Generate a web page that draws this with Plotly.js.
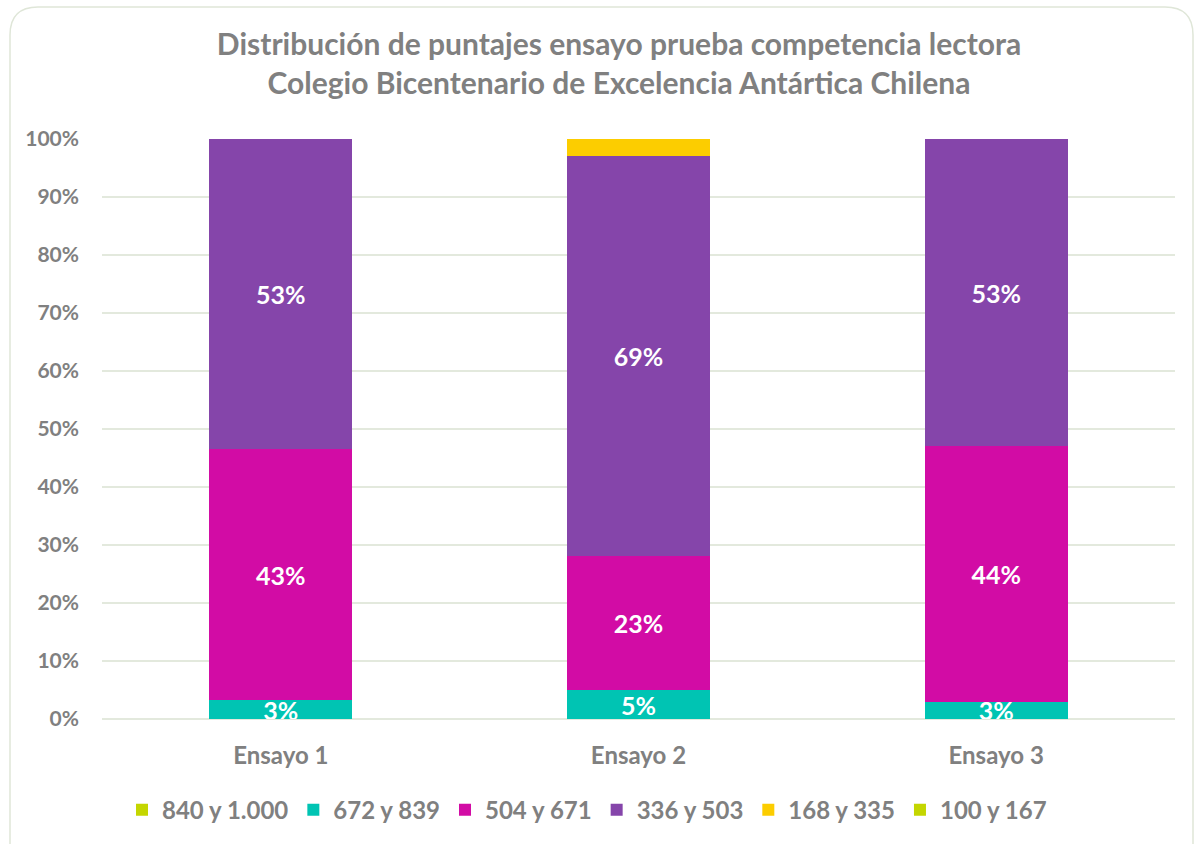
<!DOCTYPE html>
<html>
<head>
<meta charset="utf-8">
<script src="https://cdn.plot.ly/plotly-3.0.1.min.js"></script>
<style>
html,body{margin:0;padding:0;background:#fff;}
#chart{width:1200px;height:844px;}
</style>
</head>
<body>
<div id="chart"></div>
<script>
const categories = ["Ensayo 1", "Ensayo 2", "Ensayo 3"];
const seriesNames = ["840 y 1.000", "672 y 839", "504 y 671", "336 y 503", "168 y 335", "100 y 167"];
const s840 = [0, 0, 0];
const s672 = [0.032, 0.050, 0.030];
const s504 = [0.434, 0.231, 0.440];
const s336 = [0.534, 0.689, 0.530];
const s168 = [0, 0.030, 0];
const s100 = [0, 0, 0];
const seriesValues = [s840, s672, s504, s336, s168, s100];
const seriesColors = ["#c4d600", "#00c4b3", "#d20ca5", "#8545aa", "#fccd00", "#c4d600"];
const showLabels = [false, true, true, true, false, false];
const yTicks = [0, 0.1, 0.2, 0.3, 0.4, 0.5, 0.6, 0.7, 0.8, 0.9, 1.0];

const FONT = "Lato, 'Open Sans', sans-serif";

const traces = seriesNames.map((name, i) => ({
  type: "bar",
  name: name,
  x: categories,
  y: seriesValues[i],
  marker: {color: seriesColors[i], line: {width: 0}},
  texttemplate: showLabels[i] ? "%{y:.0%}" : "",
  textposition: showLabels[i] ? "inside" : "none",
  insidetextanchor: "middle",
  constraintext: "none",
  cliponaxis: true,
  textfont: {family: FONT, size: 25, color: "#ffffff", weight: "bold"},
  hoverinfo: "name+y"
}));

// paper-coordinate helpers for the rounded frame
const L = 102, R = 1175, T = 139, B = 719;
const px = v => (v - L) / (R - L);
const py = v => (B - v) / (B - T);
const fx0 = 10, fx1 = 1193, fy0 = 7, fy1 = 860, rad = 28;
const framePath =
  `M ${px(fx0 + rad)} ${py(fy0)} L ${px(fx1 - rad)} ${py(fy0)} ` +
  `Q ${px(fx1)} ${py(fy0)} ${px(fx1)} ${py(fy0 + rad)} ` +
  `L ${px(fx1)} ${py(fy1)} L ${px(fx0)} ${py(fy1)} L ${px(fx0)} ${py(fy0 + rad)} ` +
  `Q ${px(fx0)} ${py(fy0)} ${px(fx0 + rad)} ${py(fy0)} Z`;

const layout = {
  width: 1200,
  height: 844,
  paper_bgcolor: "#ffffff",
  plot_bgcolor: "#ffffff",
  margin: {l: L, r: 1200 - R, t: T, b: 844 - B, pad: 0, autoexpand: false},
  barmode: "stack",
  bargap: 0.6,
  font: {family: FONT, color: "#808080"},
  title: {
    text: "Distribución de puntajes ensayo prueba competencia lectora<br>Colegio Bicentenario de Excelencia Antártica Chilena",
    font: {family: FONT, size: 30, color: "#808080", weight: "bold"},
    xref: "container",
    x: 619 / 1200, xanchor: "center",
    yref: "container",
    y: 1 - 55 / 844, yanchor: "middle"
  },
  xaxis: {
    type: "category",
    showgrid: false,
    zeroline: false,
    showline: false,
    ticks: "",
    ticklabelstandoff: 20,
    tickfont: {family: FONT, size: 24, color: "#808080", weight: "bold"},
    fixedrange: true
  },
  yaxis: {
    range: [0, 1],
    tickvals: yTicks,
    tickformat: ".0%",
    showgrid: true,
    gridcolor: "#e3e9dd",
    gridwidth: 1.5,
    zeroline: true,
    zerolinecolor: "#e3e9dd",
    zerolinewidth: 1.5,
    showline: false,
    ticks: "",
    ticklabelstandoff: 22,
    tickfont: {family: FONT, size: 21, color: "#808080", weight: "bold"},
    fixedrange: true
  },
  legend: {
    orientation: "h",
    traceorder: "normal",
    x: px(122), xanchor: "left",
    y: -0.157, yanchor: "middle",
    font: {family: FONT, size: 24, color: "#808080", weight: "bold"},
    itemwidth: 30,
    bgcolor: "rgba(0,0,0,0)"
  },
  shapes: [{
    type: "path",
    xref: "paper", yref: "paper",
    path: framePath,
    line: {color: "#dfe6d8", width: 1.5},
    fillcolor: "rgba(0,0,0,0)",
    layer: "below"
  }],
  showlegend: true
};

Plotly.newPlot("chart", traces, layout, {displayModeBar: false, staticPlot: true});
</script>
</body>
</html>
